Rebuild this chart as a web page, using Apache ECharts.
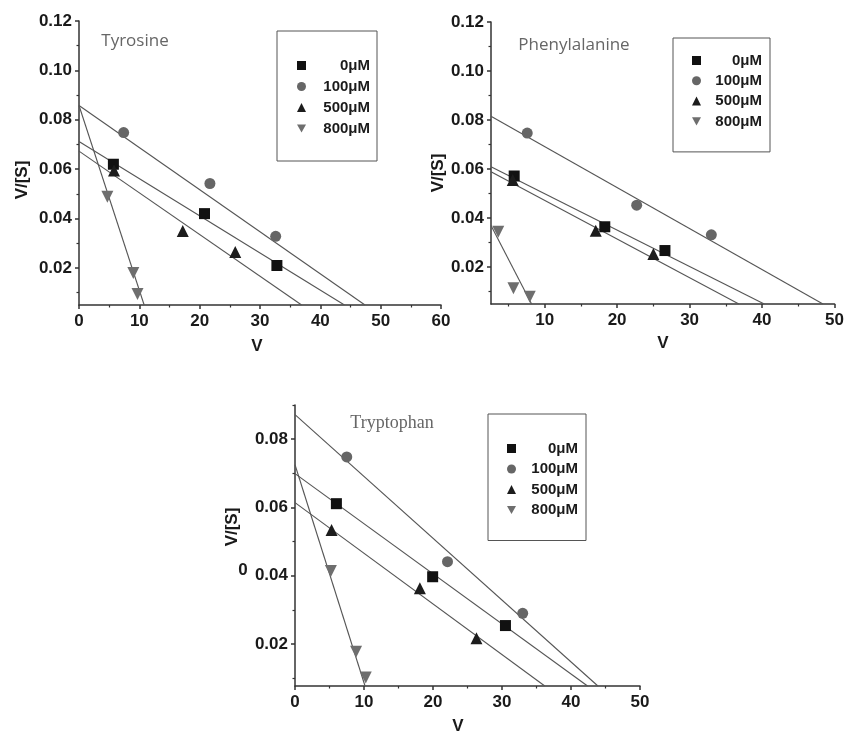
<!DOCTYPE html>
<html>
<head>
<meta charset="utf-8">
<script src="https://cdn.jsdelivr.net/npm/echarts@6.0.0/dist/echarts.min.js"></script>
<style>
  html, body { margin: 0; padding: 0; background: #fff; }
  #main { width: 847px; height: 734px; }
</style>
</head>
<body>
<div id="main"></div>
<script>
// legend names (inhibitor concentration)
var concNames = ['0μM', '100μM', '500μM', '800μM']

// Tyrosine points [V, V/[S]]
var tyr0 = [[5.7, 0.062], [20.8, 0.042], [32.8, 0.021]]
var tyr100 = [[7.4, 0.0748], [21.7, 0.0542], [32.6, 0.0328]]
var tyr500 = [[5.8, 0.0595], [17.2, 0.035], [25.9, 0.0265]]
var tyr800 = [[4.7, 0.0488], [9.0, 0.018], [9.7, 0.0095]]
// Tyrosine fitted lines (start, end)
var tyrFit0 = [[0, 0.0712], [44.0, 0.005]]
var tyrFit100 = [[0, 0.0858], [47.4, 0.005]]
var tyrFit500 = [[0, 0.0673], [36.9, 0.005]]
var tyrFit800 = [[0, 0.0858], [10.8, 0.005]]

// Phenylalanine points
var phe0 = [[5.8, 0.0572], [18.3, 0.0365], [26.6, 0.0268]]
var phe100 = [[7.6, 0.0747], [22.7, 0.0453], [33.0, 0.0332]]
var phe500 = [[5.6, 0.0556], [17.05, 0.0349], [25.0, 0.0254]]
var phe800 = [[3.6, 0.0345], [5.7, 0.0114], [7.95, 0.008]]
var pheFit0 = [[2.6, 0.061], [40.3, 0.005]]
var pheFit100 = [[2.6, 0.0816], [48.4, 0.005]]
var pheFit500 = [[2.6, 0.0589], [36.8, 0.005]]
var pheFit800 = [[2.6, 0.037], [8.2, 0.005]]

// Tryptophan points
var trp0 = [[6.0, 0.0611], [19.95, 0.0397], [30.5, 0.0254]]
var trp100 = [[7.5, 0.0748], [22.1, 0.0441], [33.0, 0.029]]
var trp500 = [[5.3, 0.0534], [18.1, 0.0363], [26.3, 0.0217]]
var trp800 = [[5.2, 0.0414], [8.85, 0.0177], [10.25, 0.0102]]
var trpFit0 = [[0, 0.0699], [42.4, 0.0077]]
var trpFit100 = [[0, 0.0872], [43.9, 0.0077]]
var trpFit500 = [[0, 0.0614], [36.2, 0.0077]]
var trpFit800 = [[0, 0.0725], [10.15, 0.0077]]

// ticks
var xMajor1 = [0, 10, 20, 30, 40, 50, 60]
var xMinor1 = [5, 15, 25, 35, 45, 55]
var xMajor2 = [10, 20, 30, 40, 50]
var xMinor2 = [5, 15, 25, 35, 45]
var xMajor3 = [0, 10, 20, 30, 40, 50]
var xMinor3 = [5, 15, 25, 35, 45]
var yMajor12 = [0.02, 0.04, 0.06, 0.08, 0.10, 0.12]
var yMinor12 = [0.01, 0.03, 0.05, 0.07, 0.09, 0.11]
var yMajor3 = [0.02, 0.04, 0.06, 0.08]
var yMinor3 = [0.01, 0.03, 0.05, 0.07, 0.09]

var markColors = ['#111', '#666', '#1c1c1c', '#6e6e6e']
var markSymbols = ['rect', 'circle', 'triangle', 'triangle']
var markSizes = [11, 11, 12, 12]
var markRotate = [0, 0, 0, 180]

var axisColor = '#333'
var labelFont = { fontSize: 17, fontWeight: 'bold', color: '#1a1a1a', fontFamily: 'Liberation Sans' }

function mainAxis(dim, grid, min, max, ticks, fmt) {
  return {
    type: 'value', gridIndex: grid, min: min, max: max,
    position: dim == 'x' ? 'bottom' : 'left',
    axisLine: { show: true, onZero: false, lineStyle: { color: axisColor, width: 1.5 } },
    axisTick: { show: true, customValues: ticks, length: 4, lineStyle: { color: axisColor, width: 1.5 } },
    axisLabel: Object.assign({ customValues: ticks, formatter: fmt, margin: dim == 'x' ? 8 : 7 }, labelFont),
    splitLine: { show: false }
  }
}

function minorAxis(dim, grid, min, max, ticks) {
  return {
    type: 'value', gridIndex: grid, min: min, max: max,
    position: dim == 'x' ? 'bottom' : 'left',
    axisLine: { show: false, onZero: false },
    axisTick: { show: true, customValues: ticks, length: 2.5, lineStyle: { color: axisColor, width: 1.2 } },
    axisLabel: { show: false },
    splitLine: { show: false }
  }
}

var fmtX = function (v) { return String(v) }
var fmtY = function (v) { return v.toFixed(2) }

var xAxes = [
  mainAxis('x', 0, 0, 60, xMajor1, fmtX),
  mainAxis('x', 1, 2.6, 50, xMajor2, fmtX),
  mainAxis('x', 2, 0, 50, xMajor3, fmtX),
  minorAxis('x', 0, 0, 60, xMinor1),
  minorAxis('x', 1, 2.6, 50, xMinor2),
  minorAxis('x', 2, 0, 50, xMinor3)
]
var yAxes = [
  mainAxis('y', 0, 0.005, 0.12, yMajor12, fmtY),
  mainAxis('y', 1, 0.005, 0.12, yMajor12, fmtY),
  mainAxis('y', 2, 0.0077, 0.09, yMajor3, fmtY),
  minorAxis('y', 0, 0.005, 0.12, yMinor12),
  minorAxis('y', 1, 0.005, 0.12, yMinor12),
  minorAxis('y', 2, 0.0077, 0.09, yMinor3)
]

var series = []
function addPanel(idx, pts, fits) {
  for (let i = 0; i < 4; i++) {
    series.push({
      name: 'fit' + idx + '_' + i, type: 'line', xAxisIndex: idx, yAxisIndex: idx,
      data: fits[i], symbol: 'none', silent: true,
      lineStyle: { color: '#555', width: 1.1 }, z: 2
    })
  }
  for (let i = 0; i < 4; i++) {
    series.push({
      name: concNames[i], type: 'scatter', xAxisIndex: idx, yAxisIndex: idx,
      data: pts[i], symbol: markSymbols[i], symbolSize: markSizes[i], symbolRotate: markRotate[i],
      itemStyle: { color: markColors[i], opacity: 1 }, z: 3
    })
  }
}
addPanel(0, [tyr0, tyr100, tyr500, tyr800], [tyrFit0, tyrFit100, tyrFit500, tyrFit800])
addPanel(1, [phe0, phe100, phe500, phe800], [pheFit0, pheFit100, pheFit500, pheFit800])
addPanel(2, [trp0, trp100, trp500, trp800], [trpFit0, trpFit100, trpFit500, trpFit800])

// legend entries; the last one needs a downward triangle icon
var legendItems = concNames.map(function (n, i) {
  return i == 3 ? { name: n, icon: 'path://M0,0L10,0L5,9Z' } : { name: n }
})

function makeLegend(left, top, pad, gap, textW) {
  return {
    data: legendItems, left: left, top: top, orient: 'vertical',
    padding: pad, itemGap: gap, itemWidth: 9, itemHeight: 9,
    borderColor: '#555', borderWidth: 1, selectedMode: false,
    formatter: function (n) { return '{t|' + n + '}' },
    textStyle: {
      rich: {
        t: { width: textW, align: 'right', fontSize: 15, fontWeight: 'bold', color: '#1a1a1a',
             fontFamily: 'Liberation Sans', lineHeight: 15 }
      }
    }
  }
}

var graphics = []
function addText(txt, x, y, font, color, rot) {
  graphics.push({
    type: 'text', x: x, y: y, rotation: rot || 0, silent: true,
    style: Object.assign({ text: txt, fill: color, align: 'center', verticalAlign: 'middle' }, font)
  })
}
var axisNameFont = { fontSize: 17, fontWeight: 'bold', fontFamily: 'Liberation Sans' }
addText('V/[S]', 22, 180, axisNameFont, '#1a1a1a', Math.PI / 2)
addText('V', 257, 346, axisNameFont, '#1a1a1a')
addText('V/[S]', 438, 173, axisNameFont, '#1a1a1a', Math.PI / 2)
addText('V', 663, 343, axisNameFont, '#1a1a1a')
addText('V/[S]', 232, 527, axisNameFont, '#1a1a1a', Math.PI / 2)
addText('V', 458, 726, axisNameFont, '#1a1a1a')
addText('0', 243, 570, axisNameFont, '#1a1a1a')
addText('Tyrosine', 135, 41, { fontSize: 17, fontFamily: 'Open Sans' }, '#666')
addText('Phenylalanine', 574, 45, { fontSize: 17, fontFamily: 'Open Sans' }, '#666')
addText('Tryptophan', 392, 423, { fontSize: 18, fontFamily: 'Liberation Serif' }, '#666')

var chart = echarts.init(document.getElementById('main'), null, { renderer: 'canvas' })
chart.setOption({
  backgroundColor: '#fff',
  animation: false,
  grid: [
    { left: 79, top: 21, width: 362, height: 284 },
    { left: 491, top: 22, width: 346, height: 282 },
    { left: 295, top: 405, width: 345, height: 281 }
  ],
  xAxis: xAxes,
  yAxis: yAxes,
  legend: [
    makeLegend(277, 31, [27, 7, 25, 20], 6, 59),
    makeLegend(673, 38, [15, 8, 23, 19], 5.3, 56),
    makeLegend(488, 414, [27, 8, 23, 19], 5.5, 57)
  ],
  series: series,
  graphic: graphics
})
</script>
</body>
</html>
